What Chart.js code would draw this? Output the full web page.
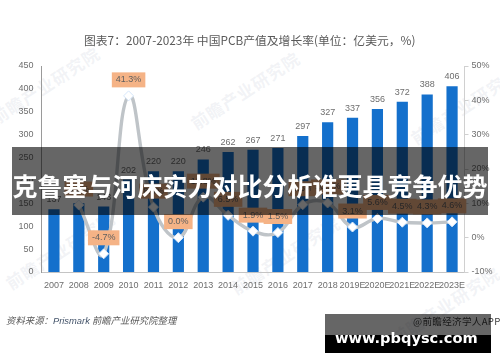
<!DOCTYPE html>
<html lang="zh">
<head>
<meta charset="utf-8">
<script src="https://cdn.jsdelivr.net/npm/chart.js@4/dist/chart.umd.min.js"></script>
<style>
html,body{margin:0;padding:0;background:#fff;}
#stage{position:relative;width:500px;height:362px;overflow:hidden;font-family:"Noto Sans CJK SC","Noto Sans",sans-serif;}
#stage canvas{position:absolute;left:0;top:0;}
.abs{position:absolute;white-space:nowrap;}
.wm{color:rgba(190,196,208,.2);font-size:17px;font-weight:700;transform:translate(-50%,-50%) rotate(-33deg);letter-spacing:1px;}
#title{left:84px;top:32px;font-size:11.8px;line-height:16px;color:#595959;}
#source{left:6px;top:313px;font-size:9.4px;line-height:14px;color:#595959;font-style:italic;}
#source span{color:#44546a;font-family:"Liberation Sans",sans-serif;}
#app{left:413px;top:314px;font-size:9.6px;line-height:14px;color:#404040;letter-spacing:.3px;}
#band{left:12px;top:147px;width:476px;height:68px;background:rgba(0,0,0,.6);}
#headline{left:12px;top:167px;width:476px;text-align:center;font-size:25px;line-height:36px;font-weight:700;color:#fff;}
#boxTop{left:325px;top:314px;width:166px;height:21px;background:rgba(0,0,0,.6);}
#boxBottom{left:325px;top:335px;width:166px;height:18px;background:#000;}
#site{left:335px;top:327px;font-family:"DejaVu Sans",sans-serif;font-weight:700;font-size:14.6px;line-height:22px;color:#fff;}
</style>
</head>
<body>
<div id="stage">
  <div class="abs wm" style="left:45px;top:85px">前瞻产业研究院</div>
  <div class="abs wm" style="left:245px;top:90px">前瞻产业研究院</div>
  <div class="abs wm" style="left:465px;top:105px">前瞻产业研究院</div>
  <div class="abs wm" style="left:60px;top:250px">前瞻产业研究院</div>
  <div class="abs wm" style="left:285px;top:255px">前瞻产业研究院</div>
  <div class="abs wm" style="left:445px;top:305px">前瞻产业研究院</div>
  <canvas id="c" width="500" height="362"></canvas>
  <div class="abs" id="title">图表7：2007-2023年 中国PCB产值及增长率(单位：亿美元，%)</div>
  <div class="abs" id="source">资料来源：<span>Prismark</span> 前瞻产业研究院整理</div>
  <div class="abs" id="app">@前瞻经济学人APP</div>
  <div class="abs" id="band"></div>
  <div class="abs" id="headline">克鲁塞与河床实力对比分析谁更具竞争优势</div>
  <div class="abs" id="boxTop"></div>
  <div class="abs" id="boxBottom"></div>
  <div class="abs" id="site">www.pbqysc.com</div>
</div>
<script>
const categories = ['2007','2008','2009','2010','2011','2012','2013','2014','2015','2016','2017','2018','2019E','2020E','2021E','2022E','2023E'];
const outputValues = [137,150,143,202,220,220,246,262,267,271,297,327,337,356,372,388,406];
const growthRates = [null,9.5,-4.7,41.3,8.9,0.0,11.8,6.5,1.9,1.5,9.6,10.1,3.1,5.6,4.5,4.3,4.6];

const tickFont = {family:'"Liberation Sans",sans-serif', size:9};
const labelPlugin = {
  id:'valueLabels',
  afterDatasetsDraw(chart){
    const ctx = chart.ctx;
    ctx.save();
    ctx.font = '9px "Liberation Sans",sans-serif';
    ctx.textAlign = 'center';
    ctx.textBaseline = 'middle';
    chart.getDatasetMeta(1).data.forEach((bar,i)=>{
      ctx.fillStyle = '#6e6e6e';
      ctx.fillText(String(outputValues[i]), bar.x, bar.y-9.5);
    });
    chart.getDatasetMeta(0).data.forEach((pt,i)=>{
      if(growthRates[i]===null) return;
      const txt = growthRates[i].toFixed(1)+'%';
      const w = ctx.measureText(txt).width + 8;
      ctx.fillStyle = '#f5b386';
      ctx.fillRect(pt.x-w/2, pt.y-23.5, w, 15);
      ctx.fillStyle = '#5f5f5f';
      ctx.fillText(txt, pt.x, pt.y-16);
    });
    ctx.restore();
  }
};

new Chart(document.getElementById('c'),{
  data:{
    labels:categories,
    datasets:[
      {type:'line',label:'增长率',data:growthRates,yAxisID:'y1',order:0,
       borderColor:'#bfc4c8',borderWidth:3.4,tension:0.42,spanGaps:false,
       pointStyle:'rectRot',pointRadius:5,pointBackgroundColor:'#ffffff',
       pointBorderColor:'#d5e6fa',pointBorderWidth:1},
      {type:'bar',label:'产值',data:outputValues,yAxisID:'y',order:1,
       backgroundColor:'#1470cc',borderWidth:0,barPercentage:0.9,categoryPercentage:0.5}
    ]
  },
  options:{
    responsive:false,animation:false,
    layout:{padding:{top:66,left:0,right:0,bottom:0}},
    plugins:{legend:{display:false},title:{display:false},tooltip:{enabled:false}},
    scales:{
      x:{grid:{display:false,drawTicks:false},border:{color:'#c4c4c4',width:1},
         ticks:{font:tickFont,color:'#6e6e6e',padding:8,maxRotation:0,autoSkip:false},
         afterFit(s){s.height=90;}},
      y:{position:'left',min:0,max:450,
         ticks:{stepSize:50,font:tickFont,color:'#6e6e6e',padding:8},
         grid:{display:false,drawTicks:false},border:{color:'#9a9a9a',width:1},
         afterFit(s){s.width=41.5;}},
      y1:{position:'right',min:-10,max:50,
         ticks:{stepSize:10,font:tickFont,color:'#6e6e6e',padding:3,callback:v=>v+'%'},
         grid:{drawOnChartArea:false,drawTicks:true,tickLength:4,color:'#d0d0d0'},border:{color:'#d0d0d0',width:1},
         afterFit(s){s.width=35.5;}}
    }
  },
  plugins:[labelPlugin]
});
</script>
</body>
</html>
